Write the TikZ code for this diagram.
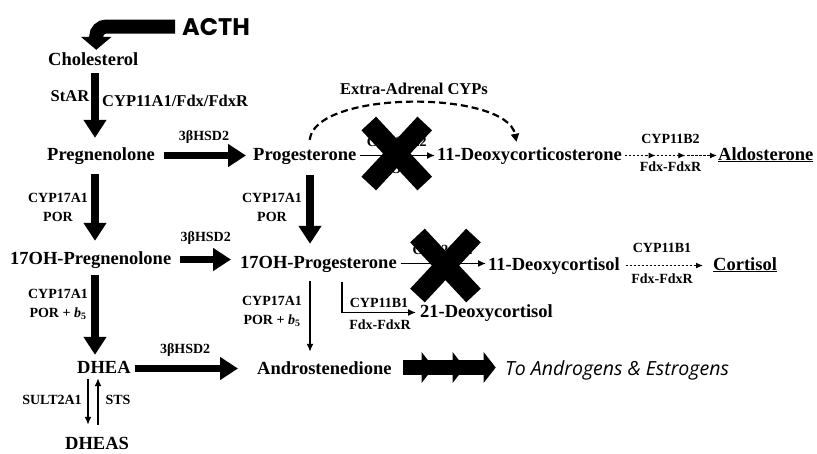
\documentclass[tikz,border=0pt]{standalone}
\usepackage{fontspec}
\setmainfont{Liberation Serif}
\newfontfamily\acthfont{Poppins}
\newfontfamily\tofont{Open Sans}
\usepackage{tikz}
\usetikzlibrary{arrows.meta, calc, shapes.misc}

\newcommand{\cmpdsize}{\fontsize{18.5}{20}\selectfont\bfseries}
\newcommand{\enzsize}{\fontsize{14}{19}\selectfont\bfseries}
\newcommand{\bigenzsize}{\fontsize{16.5}{18}\selectfont\bfseries}
\newcommand{\bfive}{\textit{b}\textsubscript{5}}

\begin{document}
\begin{tikzpicture}[x=1pt, y=-1pt,
    cmpd/.style={font=\cmpdsize, inner sep=0pt, anchor=base west, text height=13pt, text depth=4pt},
    enz/.style={font=\enzsize, inner sep=0pt, align=center},
    bigarr/.style={-{Triangle[width=22pt,length=18pt]}, line width=7.5pt},
    thinarr/.style={-{Latex[length=8pt,width=7pt]}, line width=1.5pt},
    dotarr/.style={-{Latex[length=7pt,width=6pt]}, line width=1.1pt, dash pattern=on 2.5pt off 1.5pt},
    arcarr/.style={-{Triangle[width=8pt,length=8pt]}, line width=2.2pt, dash pattern=on 7pt off 4pt},
    blockarr/.style={-{Triangle[width=30pt,length=12pt]}, line width=15pt},
    xcross/.style={cross out, draw, line width=20pt, minimum width=36pt, minimum height=40pt, inner sep=0pt}
  ]
  \useasboundingbox (0,0) rectangle (817,453);

  % compounds
  \node[cmpd] (chol)   at (48,65)   {Cholesterol};
  \node[cmpd] (preg)   at (47,160)  {Pregnenolone};
  \node[cmpd] (prog)   at (253,160) {Progesterone};
  \node[cmpd] (doc)    at (437,160) {11-Deoxycorticosterone};
  \node[cmpd] (aldo)   at (718,160) {\underline{Aldosterone}};
  \node[cmpd] (ohpreg) at (10,264)  {17OH-Pregnenolone};
  \node[cmpd] (ohprog) at (240,268) {17OH-Progesterone};
  \node[cmpd] (dcl)    at (488,270) {11-Deoxycortisol};
  \node[cmpd] (cort)   at (713,270) {\underline{Cortisol}};
  \node[cmpd] (dcl21)  at (420,317) {21-Deoxycortisol};
  \node[cmpd] (dhea)   at (77,373)  {DHEA};
  \node[cmpd] (andro)  at (257,374) {Androstenedione};
  \node[cmpd] (dheas)  at (65,449)  {DHEAS};
  \node[anchor=base west, inner sep=0pt, font=\tofont\itshape\fontsize{19.5}{21}\selectfont] (toae) at (505,375) {To Androgens \& Estrogens};
  \node[anchor=base west, inner sep=0pt, font=\acthfont\bfseries\fontsize{24}{26}\selectfont] (acth) at (182,35) {ACTH};

  \coordinate (lcol) at (95,0);
  \coordinate (mcol) at (310,0);
  \coordinate (lc) at (342,0);

  % ACTH
  \draw[line width=14pt, rounded corners=10pt, -{Triangle[width=30pt,length=13pt]}, shorten >=2pt]
    ([xshift=-7pt]acth.west) -| ([xshift=3pt]chol.north);

  % left column
  \draw[bigarr, shorten <=4pt, shorten >=9pt] (lcol |- chol.south) -- (lcol |- preg.north);
  \node[enz, font=\bigenzsize] (star) at (70,96) {StAR};
  \node[enz, font=\bigenzsize, anchor=west] (cyp11a1) at (102,101) {CYP11A1/Fdx/FdxR};
  \draw[bigarr, shorten <=10pt, shorten >=10pt] (lcol |- preg.south) -- (lcol |- ohpreg.north);
  \node[enz] (e17a) at (58,207) {CYP17A1\\POR};
  \draw[bigarr, shorten <=7pt, shorten >=5pt] (lcol |- ohpreg.south) -- (lcol |- dhea.north);
  \node[enz] (e17b) at (58,304) {CYP17A1\\POR + \bfive};

  % 3bHSD2
  \draw[bigarr, shorten <=9pt, shorten >=7pt] (preg.east) -- (preg.east -| prog.west)
    node[enz, midway, above=8pt] (hsda) {3βHSD2};
  \draw[bigarr, shorten <=9pt, shorten >=9pt] (ohpreg.east) -- (ohpreg.east -| ohprog.west)
    node[enz, midway, above=11pt] (hsdb) {3βHSD2};
  \draw[bigarr, shorten <=4pt, shorten >=19pt] (dhea.east) -- (dhea.east -| andro.west)
    node[enz, pos=0.43, above=8pt] (hsdc) {3βHSD2};

  % middle column
  \draw[bigarr, shorten <=11pt, shorten >=11pt] (mcol |- prog.south) -- (mcol |- ohprog.north);
  \node[enz] (e17c) at (272,207) {CYP17A1\\POR};
  \draw[thinarr, shorten <=9pt, shorten >=9pt] (mcol |- ohprog.south) -- (mcol |- andro.north);
  \node[enz] (e17d) at (272,311) {CYP17A1\\POR + \bfive};
  \draw[thinarr, shorten <=10pt, shorten >=4pt] (lc |- ohprog.south) |- (dcl21.west);
  \node[enz] (b1a) at (379,303) {CYP11B1};
  \node[enz] (fxa) at (380,325) {Fdx-FdxR};

  % blocked CYP21A2 steps
  \draw[thinarr, shorten <=4pt, shorten >=2pt] (prog.east) -- (prog.east -| doc.west)
    node[enz, midway, above=8pt] (c21a) {CYP21A2}
    node[enz, midway, below=8pt] (pora) {POR};
  \node[xcross] (xa) at ($(prog.east)!0.5!(doc.west)+(0,-2)$) {};
  \draw[thinarr, shorten <=4pt, shorten >=2pt] (ohprog.east) -- (ohprog.east -| dcl.west)
    node[enz, midway, above=8pt] (c21b) {CYP21A2}
    node[enz, midway, below=8pt] (porb) {POR};
  \node[xcross] (xb) at ($(ohprog.east)!0.5!(dcl.west)+(3,1)$) {};

  % extra-adrenal
  \draw[arcarr] ([xshift=5pt, yshift=7pt]prog.north) .. controls +(5,-50) and +(-10,-52) .. ([xshift=-13pt, yshift=5pt]doc.north);
  \node[enz, font=\bigenzsize] (extra) at (414,89) {Extra-Adrenal CYPs};

  % CYP11B2 / CYP11B1
  \path (doc.east) -- (aldo.west) coordinate[pos=0.35] (da) coordinate[pos=0.66] (db);
  \draw[dotarr, shorten <=3pt] (doc.east) -- (da);
  \draw[dotarr, shorten <=1pt] (da) -- (db);
  \draw[dotarr, shorten <=2pt, shorten >=1pt] (db) -- (aldo.west);
  \node[enz] (b2) at ($(da)!0.5!(db)+(0,-17)$) {CYP11B2};
  \node[enz] (fxb) at ($(da)!0.5!(db)+(0,11)$) {Fdx-FdxR};
  \draw[dotarr, shorten <=6pt, shorten >=10pt] (dcl.east) -- (cort.west);
  \node[enz] (b1b) at (662,248) {CYP11B1};
  \node[enz] (fxc) at (662,279) {Fdx-FdxR};

  % androgens
  \foreach \a/\b in {11/42, 30/73, 61/104}
    \draw[blockarr] ([xshift=\a pt, yshift=2pt]andro.east) -- ([xshift=\b pt, yshift=2pt]andro.east);

  % DHEA <-> DHEAS
  \coordinate (sa) at (88,0);
  \coordinate (sb) at (98,0);
  \draw[thinarr, shorten <=2pt, shorten >=11pt] (sa |- dhea.south) -- (sa |- dheas.north);
  \draw[thinarr, shorten <=11pt, shorten >=1pt] (sb |- dheas.north) -- (sb |- dhea.south);
  \node[enz] (sult) at (52,400) {SULT2A1};
  \node[enz] (sts) at (118,400) {STS};
\end{tikzpicture}
\end{document}
